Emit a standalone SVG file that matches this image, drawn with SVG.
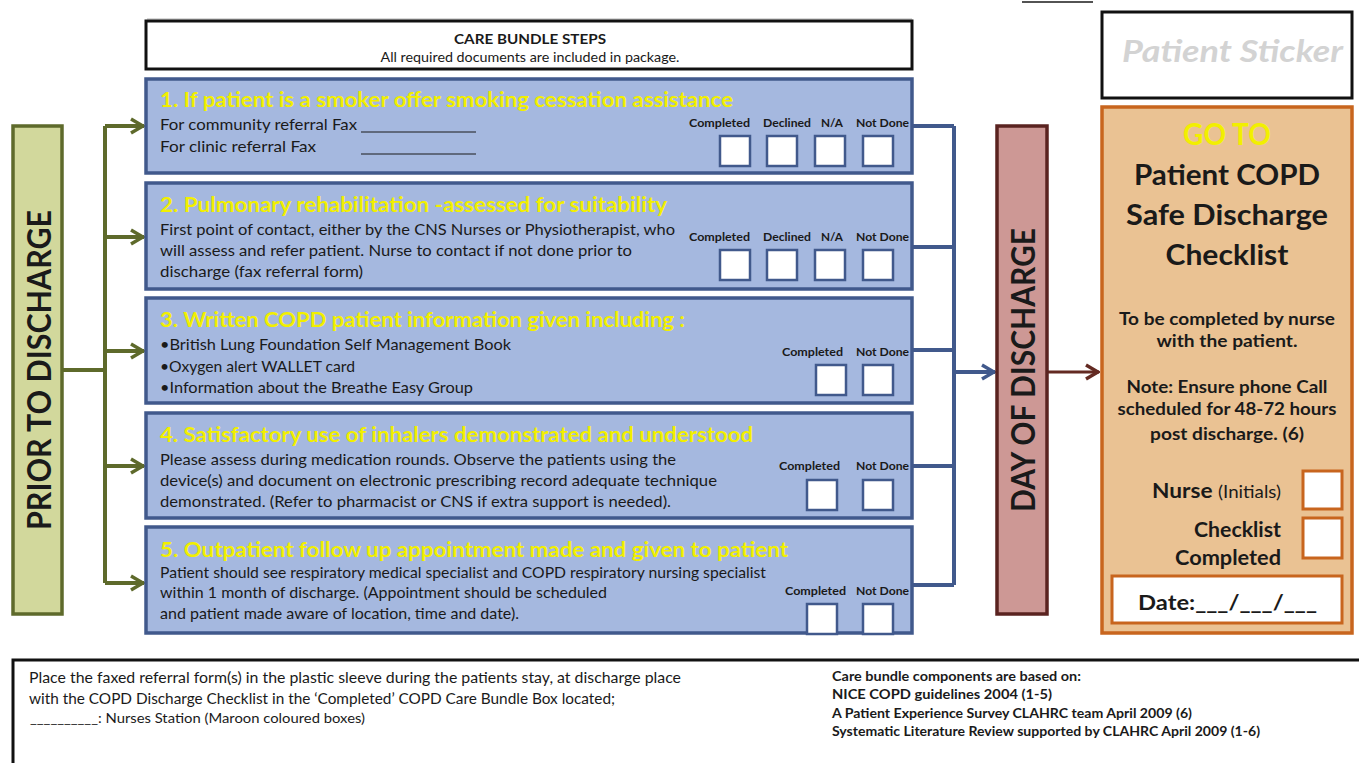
<svg xmlns="http://www.w3.org/2000/svg" width="1359" height="763" viewBox="0 0 1359 763">
<defs>
<style>
text{font-family:Lato,"Open Sans","Liberation Sans",sans-serif;fill:#1a1a1a}
.b{font-weight:bold}
.step{fill:#a5b8df;stroke:#41598c;stroke-width:3.5}
.title{font-weight:bold;font-size:20px;fill:#f2ef00}
.body{font-size:15px}
.lbl{font-weight:bold;font-size:11.5px}
.cb{fill:#fff;stroke:#41598c;stroke-width:2.5}
.ob{fill:#fff;stroke:#c8651e;stroke-width:3}
.olive{fill:none;stroke:#5e6a2b;stroke-width:4}
.blue{fill:none;stroke:#41598c;stroke-width:4}
.maroon{fill:none;stroke:#632a22;stroke-width:3}
.rc{font-weight:bold;font-size:14px}
</style>
<marker id="ao" markerUnits="userSpaceOnUse" viewBox="0 0 16 18" refX="15" refY="9" markerWidth="16" markerHeight="18" orient="auto"><path d="M2,2 L14,9 L2,16" fill="none" stroke="#5e6a2b" stroke-width="3.5"/></marker>
<marker id="ab" markerUnits="userSpaceOnUse" viewBox="0 0 16 18" refX="15" refY="9" markerWidth="16" markerHeight="18" orient="auto"><path d="M2,2 L14,9 L2,16" fill="none" stroke="#41598c" stroke-width="3.5"/></marker>
<marker id="am" markerUnits="userSpaceOnUse" viewBox="0 0 16 18" refX="15" refY="9" markerWidth="16" markerHeight="18" orient="auto"><path d="M2,2 L14,9 L2,16" fill="none" stroke="#632a22" stroke-width="3.5"/></marker>
</defs>
<rect width="1359" height="763" fill="#fff"/>
<line x1="1022" y1="2" x2="1093" y2="2" stroke="#1a1a1a" stroke-width="1.5"/>
<line x1="147" y1="19" x2="912" y2="19" stroke="#cccccc" stroke-width="1.5"/>

<g id="connectors">
<path class="olive" d="M62,370 H105"/>
<path class="olive" d="M105,126 V583"/>
<path class="olive" d="M105,126 H144" marker-end="url(#ao)"/>
<path class="olive" d="M105,237 H144" marker-end="url(#ao)"/>
<path class="olive" d="M105,351 H144" marker-end="url(#ao)"/>
<path class="olive" d="M105,466 H144" marker-end="url(#ao)"/>
<path class="olive" d="M105,583 H144" marker-end="url(#ao)"/>
<path class="blue" d="M912,126 H954 M912,247 H954 M912,350 H954 M912,466 H954 M912,585 H954"/>
<path class="blue" d="M954,126 V585"/>
<path class="blue" d="M954,372 H995" marker-end="url(#ab)"/>
<path class="maroon" d="M1047,372 H1099" marker-end="url(#am)"/>
</g>

<g id="header">
<rect x="146" y="21" width="766" height="48" fill="#fff" stroke="#111" stroke-width="3"/>
<text x="530" y="44" class="b" font-size="14" text-anchor="middle" textLength="152" lengthAdjust="spacingAndGlyphs">CARE BUNDLE STEPS</text>
<text x="530" y="62" font-size="12.5" text-anchor="middle" textLength="299" lengthAdjust="spacingAndGlyphs">All required documents are included in package.</text>
</g>

<g id="prior">
<rect x="13" y="126" width="49" height="488" fill="#d2d89c" stroke="#5e6a2b" stroke-width="3.5"/>
<text transform="translate(51,370) rotate(-90)" class="b" font-size="33" text-anchor="middle" textLength="320" lengthAdjust="spacingAndGlyphs">PRIOR TO DISCHARGE</text>
</g>

<g id="step1">
<rect class="step" x="146" y="79" width="766" height="94"/>
<text class="title" x="160" y="107" textLength="573" lengthAdjust="spacingAndGlyphs">1. If patient is a smoker offer smoking cessation assistance</text>
<text class="body" x="160" y="130" textLength="197" lengthAdjust="spacingAndGlyphs">For community referral Fax</text>
<text class="body" x="160" y="152" textLength="156" lengthAdjust="spacingAndGlyphs">For clinic referral  Fax</text>
<line x1="361" y1="132" x2="476" y2="132" stroke="#1a1a1a" stroke-width="1"/>
<line x1="361" y1="154" x2="476" y2="154" stroke="#1a1a1a" stroke-width="1"/>
<text class="lbl" x="689" y="127" textLength="61" lengthAdjust="spacingAndGlyphs">Completed</text>
<text class="lbl" x="763" y="127" textLength="48" lengthAdjust="spacingAndGlyphs">Declined</text>
<text class="lbl" x="821" y="127" textLength="22" lengthAdjust="spacingAndGlyphs">N/A</text>
<text class="lbl" x="856" y="127" textLength="53" lengthAdjust="spacingAndGlyphs">Not Done</text>
<rect class="cb" x="720" y="136" width="30" height="30"/>
<rect class="cb" x="767" y="136" width="30" height="30"/>
<rect class="cb" x="815" y="136" width="30" height="30"/>
<rect class="cb" x="863" y="136" width="30" height="30"/>
</g>

<g id="step2">
<rect class="step" x="146" y="183" width="766" height="106"/>
<text class="title" x="160" y="212" textLength="507" lengthAdjust="spacingAndGlyphs">2. Pulmonary rehabilitation -assessed for suitability</text>
<text class="body" x="160" y="235" textLength="515" lengthAdjust="spacingAndGlyphs">First point of contact, either by the CNS Nurses or Physiotherapist, who</text>
<text class="body" x="160" y="256" textLength="472" lengthAdjust="spacingAndGlyphs">will assess and refer patient. Nurse to contact if not done prior to</text>
<text class="body" x="160" y="277" textLength="203" lengthAdjust="spacingAndGlyphs">discharge (fax referral form)</text>
<text class="lbl" x="689" y="241" textLength="61" lengthAdjust="spacingAndGlyphs">Completed</text>
<text class="lbl" x="763" y="241" textLength="48" lengthAdjust="spacingAndGlyphs">Declined</text>
<text class="lbl" x="821" y="241" textLength="22" lengthAdjust="spacingAndGlyphs">N/A</text>
<text class="lbl" x="856" y="241" textLength="53" lengthAdjust="spacingAndGlyphs">Not Done</text>
<rect class="cb" x="720" y="250" width="30" height="30"/>
<rect class="cb" x="767" y="250" width="30" height="30"/>
<rect class="cb" x="815" y="250" width="30" height="30"/>
<rect class="cb" x="863" y="250" width="30" height="30"/>
</g>

<g id="step3">
<rect class="step" x="146" y="298" width="766" height="105"/>
<text class="title" x="160" y="327" textLength="525" lengthAdjust="spacingAndGlyphs">3. Written COPD patient information given including :</text>
<text class="body" x="160" y="350" textLength="351" lengthAdjust="spacingAndGlyphs">•British Lung Foundation Self Management Book</text>
<text class="body" x="160" y="372" textLength="195" lengthAdjust="spacingAndGlyphs">•Oxygen alert WALLET card</text>
<text class="body" x="160" y="393" textLength="313" lengthAdjust="spacingAndGlyphs">•Information about the Breathe Easy Group</text>
<text class="lbl" x="782" y="356" textLength="61" lengthAdjust="spacingAndGlyphs">Completed</text>
<text class="lbl" x="856" y="356" textLength="53" lengthAdjust="spacingAndGlyphs">Not Done</text>
<rect class="cb" x="816" y="365" width="30" height="30"/>
<rect class="cb" x="863" y="365" width="30" height="30"/>
</g>

<g id="step4">
<rect class="step" x="146" y="413" width="766" height="105"/>
<text class="title" x="160" y="442" textLength="593" lengthAdjust="spacingAndGlyphs">4. Satisfactory use of inhalers demonstrated and understood</text>
<text class="body" x="160" y="465" textLength="516" lengthAdjust="spacingAndGlyphs">Please assess during medication rounds. Observe the patients using the</text>
<text class="body" x="160" y="486" textLength="557" lengthAdjust="spacingAndGlyphs">device(s) and document on electronic prescribing record adequate technique</text>
<text class="body" x="160" y="507" textLength="511" lengthAdjust="spacingAndGlyphs">demonstrated. (Refer to pharmacist or CNS if extra support is needed).</text>
<text class="lbl" x="779" y="470" textLength="61" lengthAdjust="spacingAndGlyphs">Completed</text>
<text class="lbl" x="856" y="470" textLength="53" lengthAdjust="spacingAndGlyphs">Not Done</text>
<rect class="cb" x="807" y="480" width="30" height="30"/>
<rect class="cb" x="863" y="480" width="30" height="30"/>
</g>

<g id="step5">
<rect class="step" x="146" y="527" width="766" height="106"/>
<text class="title" x="160" y="557" textLength="628" lengthAdjust="spacingAndGlyphs">5. Outpatient follow up appointment made and given to patient</text>
<text class="body" x="160" y="578" textLength="606" lengthAdjust="spacingAndGlyphs">Patient should see respiratory medical specialist and COPD respiratory nursing specialist</text>
<text class="body" x="160" y="598" textLength="447" lengthAdjust="spacingAndGlyphs">within 1 month of discharge.  (Appointment should be scheduled</text>
<text class="body" x="160" y="619" textLength="359" lengthAdjust="spacingAndGlyphs">and patient made aware of location, time and date).</text>
<text class="lbl" x="785" y="595" textLength="61" lengthAdjust="spacingAndGlyphs">Completed</text>
<text class="lbl" x="856" y="595" textLength="53" lengthAdjust="spacingAndGlyphs">Not Done</text>
<rect class="cb" x="807" y="604" width="30" height="30"/>
<rect class="cb" x="863" y="604" width="30" height="30"/>
</g>

<g id="day">
<rect x="997" y="126" width="50" height="488" fill="#cd9895" stroke="#5a2320" stroke-width="3.5"/>
<text transform="translate(1035,370) rotate(-90)" class="b" font-size="32" text-anchor="middle" textLength="284" lengthAdjust="spacingAndGlyphs">DAY OF DISCHARGE</text>
</g>

<g id="sticker">
<rect x="1102" y="12" width="250" height="86" fill="#fff" stroke="#111" stroke-width="3"/>
<text x="1122" y="62" font-size="30" font-weight="bold" font-style="italic" style="fill:#d3d3d3" textLength="221" lengthAdjust="spacingAndGlyphs">Patient Sticker</text>
</g>

<g id="checklist">
<rect x="1102" y="107" width="250" height="526" fill="#eac293" stroke="#c8651e" stroke-width="3.5"/>
<text x="1227" y="145" class="b" font-size="30" text-anchor="middle" style="fill:#f2ef00" textLength="88" lengthAdjust="spacingAndGlyphs">GO TO</text>
<text x="1227" y="185" class="b" font-size="29" text-anchor="middle" textLength="186" lengthAdjust="spacingAndGlyphs">Patient COPD</text>
<text x="1227" y="225" class="b" font-size="29" text-anchor="middle" textLength="202" lengthAdjust="spacingAndGlyphs">Safe Discharge</text>
<text x="1227" y="265" class="b" font-size="29" text-anchor="middle" textLength="123" lengthAdjust="spacingAndGlyphs">Checklist</text>
<text x="1227" y="325" class="b" font-size="16.5" text-anchor="middle" textLength="216" lengthAdjust="spacingAndGlyphs">To be completed by nurse</text>
<text x="1227" y="347" class="b" font-size="16.5" text-anchor="middle" textLength="141" lengthAdjust="spacingAndGlyphs">with the patient.</text>
<text x="1227" y="393" class="b" font-size="16.5" text-anchor="middle" textLength="201" lengthAdjust="spacingAndGlyphs">Note: Ensure phone Call</text>
<text x="1227" y="415" class="b" font-size="16.5" text-anchor="middle" textLength="219" lengthAdjust="spacingAndGlyphs">scheduled for 48-72 hours</text>
<text x="1227" y="440" class="b" font-size="16.5" text-anchor="middle" textLength="154" lengthAdjust="spacingAndGlyphs">post discharge. (6)</text>
<text x="1152" y="498" font-size="20" class="b" textLength="129" lengthAdjust="spacingAndGlyphs">Nurse <tspan font-weight="normal" font-size="16.5">(Initials)</tspan></text>
<text x="1281" y="537" class="b" font-size="20" text-anchor="end" textLength="87" lengthAdjust="spacingAndGlyphs">Checklist</text>
<text x="1281" y="565" class="b" font-size="20" text-anchor="end" textLength="106" lengthAdjust="spacingAndGlyphs">Completed</text>
<rect class="ob" x="1303" y="471" width="39" height="38"/>
<rect class="ob" x="1303" y="518" width="39" height="40"/>
<rect class="ob" x="1112" y="576" width="230" height="47"/>
<text x="1138" y="610" class="b" font-size="20" textLength="179" lengthAdjust="spacingAndGlyphs">Date:___/___/___</text>
</g>

<g id="footer">
<rect x="13" y="660" width="1400" height="200" fill="#fff" stroke="#111" stroke-width="3"/>
<text x="29" y="683" font-size="15" textLength="652" lengthAdjust="spacingAndGlyphs">Place the faxed referral form(s) in the plastic sleeve during the patients stay, at discharge place</text>
<text x="29" y="704" font-size="15" textLength="586" lengthAdjust="spacingAndGlyphs">with the COPD Discharge Checklist in the ‘Completed’ COPD Care Bundle Box located;</text>
<text x="30" y="723" font-size="13" textLength="335" lengthAdjust="spacingAndGlyphs">__________: Nurses Station (Maroon coloured boxes)</text>
<text class="rc" x="832" y="681" font-size="12.5" textLength="249" lengthAdjust="spacingAndGlyphs">Care bundle components are based on:</text>
<text class="rc" x="832" y="699" font-size="12.5" textLength="220" lengthAdjust="spacingAndGlyphs">NICE COPD guidelines 2004 (1-5)</text>
<text class="rc" x="832" y="718" font-size="12.5" textLength="360" lengthAdjust="spacingAndGlyphs">A Patient Experience Survey  CLAHRC team April 2009 (6)</text>
<text class="rc" x="832" y="736" font-size="12.5" textLength="428" lengthAdjust="spacingAndGlyphs">Systematic Literature Review supported by CLAHRC April 2009 (1-6)</text>
</g>
</svg>
